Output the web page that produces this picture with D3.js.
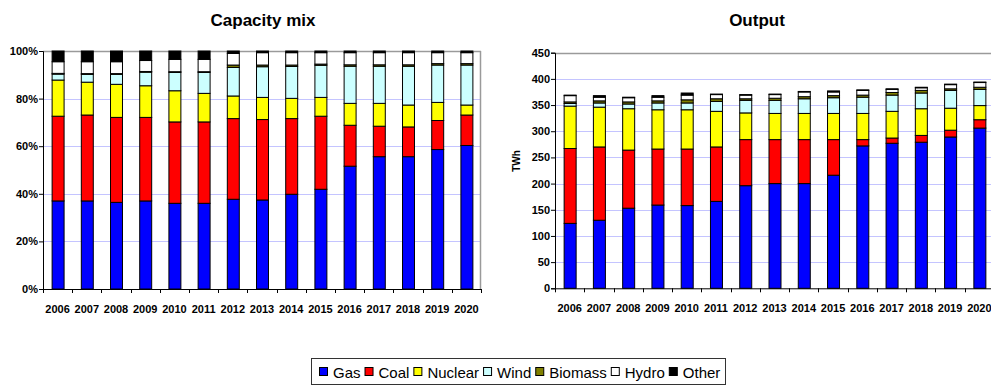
<!DOCTYPE html>
<html><head><meta charset="utf-8">
<script src="https://cdn.jsdelivr.net/npm/d3@7"></script>
<style>
html,body{margin:0;padding:0;background:#fff;}
svg{display:block;}
text{font-family:"Liberation Sans",Arial,sans-serif;}
</style></head>
<body>
<svg id="chart" width="991" height="385"></svg>
<script>
const years = ["2006","2007","2008","2009","2010","2011","2012","2013","2014","2015","2016","2017","2018","2019","2020"];
const seriesNames = ["Gas","Coal","Nuclear","Wind","Biomass","Hydro","Other"];
const seriesColors = ["#0000ff","#ff0000","#ffff00","#ccffff","#808000","#ffffff","#000000"];

// Capacity mix (% of capacity)
const capGas     = [37.0,37.0,36.4,37.0,36.0,36.0,37.7,37.4,39.8,41.9,51.6,55.6,55.6,58.6,60.3];
const capCoal    = [35.6,36.1,35.7,35.1,34.2,34.2,33.9,33.8,31.8,30.7,17.2,12.8,12.5,12.2,12.8];
const capNuclear = [15.2,13.8,13.9,13.3,13.1,12.0, 9.5, 9.3, 8.5, 7.9, 9.2, 9.6, 9.2, 7.6, 4.2];
const capWind    = [ 2.5, 3.3, 4.2, 5.7, 7.7, 8.8,12.0,12.9,13.4,13.5,15.6,15.6,16.3,15.7,16.8];
const capBiomass = [ 0.3, 0.3, 0.3, 0.3, 0.3, 0.3, 1.0, 0.7, 0.6, 0.5, 0.6, 0.6, 0.6, 0.6, 0.6];
const capHydro   = [ 4.9, 5.0, 5.0, 4.6, 5.2, 5.2, 4.9, 5.2, 5.2, 4.8, 5.1, 5.1, 5.1, 4.6, 4.6];
const capOther   = [ 4.5, 4.5, 4.5, 4.0, 3.5, 3.5, 1.0, 0.7, 0.7, 0.7, 0.7, 0.7, 0.7, 0.7, 0.7];

// Output (TWh)
const outGas     = [124,130,153,159,158,166,196,200,200,216,272,277,279,289,306];
const outCoal    = [143,140,111,107,108,104, 88, 84, 84, 68, 12, 10, 13, 13, 16];
const outNuclear = [ 81, 76, 79, 75, 75, 68, 51, 50, 50, 50, 50, 51, 51, 42, 27];
const outWind    = [  5,  8,  9, 13, 13, 19, 24, 25, 28, 30, 31, 31, 30, 34, 31];
const outBiomass = [  3,  4,  4,  4,  6,  5,  3,  4,  4,  4,  4,  5,  5,  3,  4];
const outHydro   = [ 12,  7,  8,  7,  9,  8,  7,  7,  9,  7,  9,  6,  5,  8,  9];
const outOther   = [  1,  3,  1,  3,  4,  1,  1,  1,  1,  2,  1,  1,  1,  1,  1];

const capTicks = [0,20,40,60,80,100];
const outTicks = [0,50,100,150,200,250,300,350,400,450];

function buildRows(arrs){
  return years.map((y,i)=>{
    const r={year:y};
    seriesNames.forEach((s,k)=>r[s]=arrs[k][i]);
    return r;
  });
}
const capRows = buildRows([capGas,capCoal,capNuclear,capWind,capBiomass,capHydro,capOther]);
const outRows = buildRows([outGas,outCoal,outNuclear,outWind,outBiomass,outHydro,outOther]);

const svg = d3.select("#chart");
const color = d3.scaleOrdinal().domain(seriesNames).range(seriesColors);
const stack = d3.stack().keys(seriesNames);

function drawChart(cfg){
  const g = svg.append("g");
  const x = d3.scaleBand().domain(years).range([cfg.x0,cfg.x1]).paddingInner(0.59).paddingOuter(0.295);
  const y = d3.scaleLinear().domain([0,cfg.max]).range([cfg.yBot,cfg.yTop]);

  g.selectAll("line.grid").data(cfg.ticks.filter(t=>t>0 && t<cfg.max)).join("line")
    .attr("x1",cfg.x0).attr("x2",cfg.x1)
    .attr("y1",d=>Math.round(y(d))+0.5).attr("y2",d=>Math.round(y(d))+0.5)
    .attr("stroke","#c4c4ff").attr("stroke-width",1);
  g.append("line").attr("x1",cfg.x0).attr("x2",cfg.x1)
    .attr("y1",Math.round(y(cfg.max))+0.5).attr("y2",Math.round(y(cfg.max))+0.5)
    .attr("stroke","#9a9a9a").attr("stroke-width",1.5);
  g.append("line").attr("x1",cfg.x1-0.5).attr("x2",cfg.x1-0.5)
    .attr("y1",y(cfg.max)).attr("y2",y(0))
    .attr("stroke","#9a9a9a").attr("stroke-width",1.5);

  const layers = stack(cfg.rows);
  g.selectAll("g.layer").data(layers).join("g")
    .attr("fill",d=>color(d.key))
    .selectAll("rect").data(d=>d).join("rect")
    .attr("x",d=>x(d.data.year)+0.5)
    .attr("width",x.bandwidth())
    .attr("y",d=>y(d[1]))
    .attr("height",d=>Math.max(0,y(d[0])-y(d[1])))
    .attr("stroke","#000").attr("stroke-width",1);

  const ya = g.append("g").attr("transform",`translate(${cfg.x0},0)`)
    .call(d3.axisLeft(y).tickValues(cfg.ticks).tickSize(4).tickPadding(1).tickFormat(cfg.fmt));
  ya.select(".domain").attr("stroke","#000");
  ya.selectAll("text").attr("font-size",11).attr("font-weight","bold").attr("fill","#000")
    .attr("font-family","'Liberation Sans',Arial,sans-serif");

  const xa = g.append("g").attr("transform",`translate(0,${cfg.yBot})`)
    .call(d3.axisBottom(x).tickSize(0).tickPadding(16));
  xa.select(".domain").attr("stroke","#000");
  xa.selectAll("text").attr("font-size",11).attr("font-weight","bold").attr("fill","#000")
    .attr("font-family","'Liberation Sans',Arial,sans-serif");
  const bounds = d3.range(years.length+1).map(i=>cfg.x0 + i*(cfg.x1-cfg.x0)/years.length);
  xa.selectAll("line.btick").data(bounds).join("line")
    .attr("x1",d=>Math.round(d)+0.5).attr("x2",d=>Math.round(d)+0.5)
    .attr("y1",0).attr("y2",4).attr("stroke","#000");

  svg.append("text").attr("x",cfg.tx).attr("y",26).attr("text-anchor","middle")
    .attr("font-family","Lato,'Open Sans',sans-serif").attr("font-weight","bold")
    .attr("font-size",17).attr("fill","#000").text(cfg.title);
  return {x,y};
}

drawChart({rows:capRows,x0:43,x1:481,yTop:51,yBot:289,max:100,ticks:capTicks,
  fmt:d=>d+"%",title:"Capacity mix",tx:263});
drawChart({rows:outRows,x0:555,x1:994,yTop:52.7,yBot:288.3,max:450,ticks:outTicks,
  fmt:d=>d,title:"Output",tx:757});

svg.append("text").attr("transform","translate(520,161) rotate(-90)")
  .attr("text-anchor","middle").attr("font-size",10).attr("font-weight","bold").text("TWh");

// legend
const lg = svg.append("g");
lg.append("rect").attr("x",311.5).attr("y",358.5).attr("width",414).attr("height",26)
  .attr("fill","#fff").attr("stroke","#333").attr("stroke-width",1);
let lx = 319;
seriesNames.forEach((s,i)=>{
  lg.append("rect").attr("x",lx+0.5).attr("y",367.5).attr("width",8).attr("height",8)
    .attr("fill",seriesColors[i]).attr("stroke","#000");
  const t = lg.append("text").attr("x",lx+14).attr("y",378).attr("font-size",15)
    .attr("fill","#000").text(s);
  lx += 14 + t.node().getComputedTextLength() + 4;
});
</script>
</body></html>
